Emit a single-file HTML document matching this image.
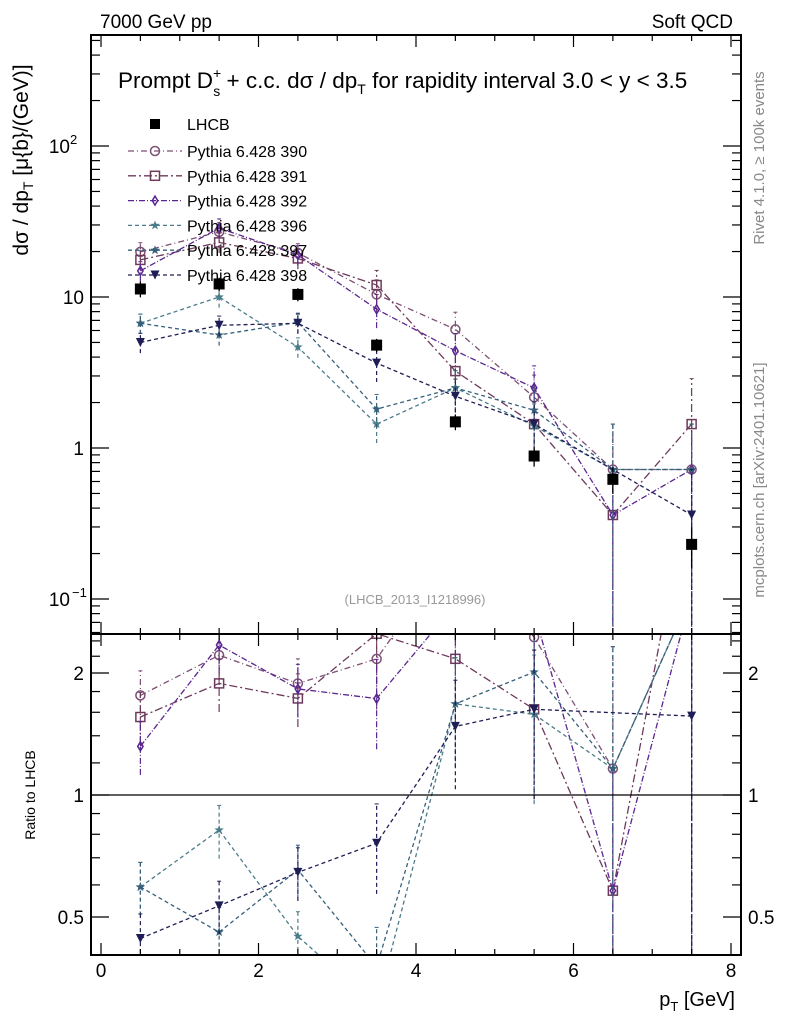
<!DOCTYPE html>
<html><head><meta charset="utf-8"><style>
html,body{margin:0;background:#fff;overflow:hidden;width:786px;height:1024px;}
svg{display:block;font-family:"Liberation Sans",sans-serif;}
</style></head><body>
<svg id="c" width="786" height="1024" viewBox="0 0 786 1024">
<text x="100" y="28" font-size="19">7000 GeV pp</text>
<text x="733" y="28" font-size="19" text-anchor="end">Soft QCD</text>
<text x="118" y="88" font-size="22.5">Prompt D<tspan font-size="14" dy="-10">+</tspan><tspan font-size="14" dx="-8" dy="18">s</tspan><tspan dy="-8"> + c.c.  dσ / dp</tspan><tspan font-size="14" dy="6">T</tspan><tspan dy="-6"> for rapidity interval 3.0 &lt; y &lt; 3.5</tspan></text>
<text transform="translate(28,160) rotate(-90)" font-size="21" text-anchor="middle">dσ / dp<tspan font-size="14" dy="5">T</tspan><tspan dy="-5"> [μ{b}/(GeV)]</tspan></text>
<text transform="translate(35,795) rotate(-90)" font-size="14" text-anchor="middle">Ratio to LHCB</text>
<text transform="translate(764,158) rotate(-90)" font-size="15" fill="#888" text-anchor="middle">Rivet 4.1.0, ≥ 100k events</text>
<text transform="translate(764,480) rotate(-90)" font-size="15" fill="#888" text-anchor="middle">mcplots.cern.ch [arXiv:2401.10621]</text>
<text x="415" y="604" font-size="13" fill="#999" text-anchor="middle">(LHCB_2013_I1218996)</text>
<text x="735" y="1006" font-size="20" text-anchor="end">p<tspan font-size="13" dy="5">T</tspan><tspan dy="-5"> [GeV]</tspan></text>
<g id="g"></g>
</svg>
<script>
const xs=[0.5,1.5,2.5,3.5,4.5,5.5,6.5,7.5];
const lhcb=[11.3,12.2,10.4,4.8,1.49,0.885,0.62,0.23];
const lhcbErr=[0.12,0.1,0.1,0.1,0.12,0.15,0.2,0.3];
const s390=[19.9,27,19.6,10.4,6.1,2.17,0.72,0.72];
const s391=[17.6,23,18,12,3.23,1.44,0.36,1.44];
const s392=[14.9,28.6,19,8.3,4.4,2.5,0.36,0.72];
const s396=[6.7,10,4.66,1.44,2.5,1.4,0.72,0.72];
const s397=[6.7,5.6,6.8,1.81,2.5,1.78,0.72,0.72];
const s398=[5.0,6.5,6.7,3.65,2.2,1.44,null,0.36];
const relErr=[0.15,0.15,0.15,0.25,0.3,0.4,1,1];
const names=["Pythia 6.428 390","Pythia 6.428 391","Pythia 6.428 392","Pythia 6.428 396","Pythia 6.428 397","Pythia 6.428 398"];
const series=[s390,s391,s392,s396,s397,s398];
const colors=["#7c4f74","#6e3a5c","#5a2590","#4b7c8a","#37607a","#1e1e55"];
const dashes=["6,3,1,3","8,3,2,3","6,2,1,2","4,3","4,3","4,3"];
const markers=["circle","square","diamond","star","star","tri"];
const ns="http://www.w3.org/2000/svg";
const g=document.getElementById('g');
const L=91,R=741,T=35,MB=634,RB=955;
const X=v=>101+v*78.75;
const Y=v=>448-151*Math.log10(v);
const RY=v=>795-122*Math.log2(v);
function el(t,a,p){const e=document.createElementNS(ns,t);for(const k in a)e.setAttribute(k,a[k]);(p||g).appendChild(e);return e;}
const defs=el('defs',{});
const c1=el('clipPath',{id:'cm'},defs);el('rect',{x:L,y:T,width:R-L,height:MB-T},c1);
const c2=el('clipPath',{id:'cr'},defs);el('rect',{x:L,y:MB,width:R-L,height:RB-MB},c2);
const gm=el('g',{'clip-path':'url(#cm)'});


const gr=el('g',{'clip-path':'url(#cr)'});


function marker(type,x,y,col,p,sz){
 sz=sz||4.5;let m;
 if(type==='circle')m=el('circle',{cx:x,cy:y,r:sz,fill:'none',stroke:col,'stroke-width':1.5},p);
 else if(type==='square')m=el('rect',{x:x-sz,y:y-sz,width:2*sz,height:2*sz,fill:'none',stroke:col,'stroke-width':1.5},p);
 else if(type==='diamond')m=el('polygon',{points:`${x},${y-sz} ${x+sz*0.6},${y} ${x},${y+sz} ${x-sz*0.6},${y}`,fill:'none',stroke:col,'stroke-width':1.5},p);
 else if(type==='tri')m=el('polygon',{points:`${x-sz},${y-sz} ${x+sz},${y-sz} ${x},${y+sz}`,fill:col},p);
 else if(type==='fsquare')m=el('rect',{x:x-sz,y:y-sz,width:2*sz,height:2*sz,fill:col},p);
 else{let pts=[];for(let i=0;i<10;i++){const r=i%2?sz*0.45:sz*1.1,a=-Math.PI/2+i*Math.PI/5;pts.push((x+r*Math.cos(a)).toFixed(1)+','+(y+r*Math.sin(a)).toFixed(1));}m=el('polygon',{points:pts.join(' '),fill:col},p);}
 return m;
}
series.forEach((s,k)=>{
 const col=colors[k];
 [[gm,v=>Y(v),i=>s[i]],[gr,v=>RY(v),i=>s[i]/lhcb[i]]].forEach(([p,fy,val],pi)=>{
  let pts=[];
  xs.forEach((x,i)=>{if(s[i]!=null)pts.push(X(x).toFixed(1)+','+fy(val(i)).toFixed(1));});
  const pl=el('polyline',{points:pts.join(' '),fill:'none',stroke:col,'stroke-width':1.3,'stroke-dasharray':dashes[k]},p);
  
  
  xs.forEach((x,i)=>{
   if(s[i]==null)return;
   const v=val(i),e=relErr[i];
   const lo=Math.max(v*(1-e),1e-4),hi=v*(1+e);
   el('line',{x1:X(x),x2:X(x),y1:fy(lo),y2:fy(hi),stroke:col,'stroke-width':1.2,'stroke-dasharray':dashes[k]},p);
   el('line',{x1:X(x)-2,x2:X(x)+2,y1:fy(hi),y2:fy(hi),stroke:col,'stroke-width':1},p);
   const m=marker(markers[k],X(x),fy(v),col,p);
   
   
  });
 });
});
xs.forEach((x,i)=>{
 const v=lhcb[i],e=lhcbErr[i];
 el('line',{x1:X(x),x2:X(x),y1:Y(v*(1-e)),y2:Y(v*(1+e)),stroke:'#000','stroke-width':1.3},gm);
 const m=marker('fsquare',X(x),Y(v),'#000',gm,5.5);
 
 
});
el('line',{x1:L,x2:R,y1:RY(1),y2:RY(1),stroke:'#000','stroke-width':1.3});
el('rect',{x:L,y:T,width:R-L,height:MB-T,fill:'none',stroke:'#000','stroke-width':2});
el('rect',{x:L,y:MB,width:R-L,height:RB-MB,fill:'none',stroke:'#000','stroke-width':2});
for(let v=0;v<=8.01;v+=0.5){
 const major=Math.abs(v-Math.round(v))<1e-6&&Math.round(v)%2===0;
 const len=major?12:6,x=X(v);
 [[T,1],[MB,-1],[MB,1],[RB,-1]].forEach(([y,d])=>el('line',{x1:x,x2:x,y1:y,y2:y+d*len,stroke:'#000','stroke-width':1.2}));
 if(major){const t=el('text',{x:x,y:977,'font-size':19,'text-anchor':'middle'});t.textContent=Math.round(v);
  }
}
for(let d=-2;d<=2;d++)for(let m=1;m<=9;m++){
 const v=m*Math.pow(10,d),y=Y(v);if(y<T||y>MB)continue;
 const len=m===1?18:9;
 el('line',{x1:L,x2:L+len,y1:y,y2:y,stroke:'#000','stroke-width':1.2});
 el('line',{x1:R,x2:R-len,y1:y,y2:y,stroke:'#000','stroke-width':1.2});
}
const yLabs=[["10",2,146],["10",null,297],["1",null,448],["10",-1,599]];
yLabs.forEach(([b,e,y])=>{const t=el('text',{x:e!=null?70:84,y:y+7,'font-size':19,'text-anchor':'end'});t.textContent=b;
 
 if(e!=null){const s=el('text',{x:e<0?72:70,y:y-2,'font-size':13});s.textContent=e<0?'−1':'2';}});
[0.5,0.6,0.7,0.8,0.9,1,1.2,1.4,1.6,1.8,2,2.2,2.4].forEach(v=>{const y=RY(v);const len=(v===0.5||v===1||v===2)?18:9;
 el('line',{x1:L,x2:L+len,y1:y,y2:y,stroke:'#000','stroke-width':1.2});el('line',{x1:R,x2:R-len,y1:y,y2:y,stroke:'#000','stroke-width':1.2});});
[["2",2],["1",1],["0.5",0.5]].forEach(([s,v])=>{
 const a=el('text',{x:84,y:RY(v)+7,'font-size':19,'text-anchor':'end'});a.textContent=s;
 
 const b=el('text',{x:748,y:RY(v)+7,'font-size':19});b.textContent=s;
 });
const lg=el('g',{});

marker('fsquare',155,124,'#000',lg,5);
let t0=el('text',{x:187,y:130,'font-size':16},lg);t0.textContent='LHCB';
names.forEach((n,k)=>{const y=151+k*24.8;
 el('line',{x1:128,x2:182,y1:y,y2:y,stroke:colors[k],'stroke-width':1.3,'stroke-dasharray':dashes[k]},lg);
 marker(markers[k],155,y,colors[k],lg);
 const t=el('text',{x:187,y:y+6,'font-size':16},lg);t.textContent=n;
 });
</script>
</body></html>
